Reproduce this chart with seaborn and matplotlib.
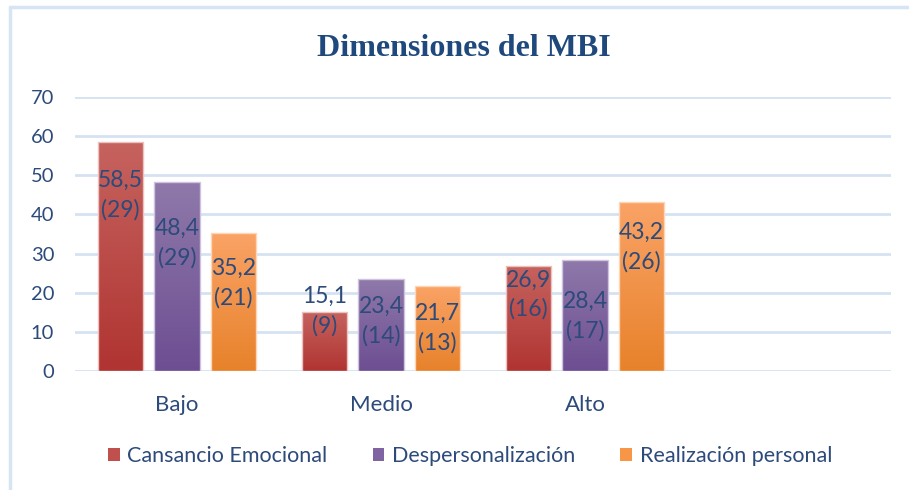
import numpy as np
import pandas as pd
import matplotlib
matplotlib.use("Agg")
import matplotlib.pyplot as plt
import seaborn as sns
from matplotlib.colors import LinearSegmentedColormap
from matplotlib.patches import Patch
from matplotlib.lines import Line2D

# ---- data ----
categories = ["Bajo", "Medio", "Alto"]
series = ["Cansancio Emocional", "Despersonalización", "Realización personal"]
cansancio = [58.5, 15.1, 26.9]
cansancio_n = [29, 9, 16]
despers = [48.4, 23.4, 28.4]
despers_n = [29, 14, 17]
realizacion = [35.2, 21.7, 43.2]
realizacion_n = [21, 13, 26]
yticks = [0, 10, 20, 30, 40, 50, 60, 70]

# label anchor heights (as placed in the original chart)
label_y = [[44.9, 15.3, 19.5], [32.6, 12.8, 14.0], [22.5, 11.0, 31.7]]

values = [cansancio, despers, realizacion]
counts = [cansancio_n, despers_n, realizacion_n]

rows = []
for s, vals in zip(series, values):
    for c, v in zip(categories, vals):
        rows.append({"cat": c, "serie": s, "val": v})
df = pd.DataFrame(rows)

sns.set_style("white")
plt.rcParams["font.family"] = ["Lato", "DejaVu Sans"]

text_col = "#2C4A7A"
grads = [("#C6635F", "#B03431"), ("#8F79AA", "#6D4E92"), ("#FAA366", "#E7822B")]
solid = ["#C0504D", "#8064A2", "#F79646"]
edges = ["#EBC2C0", "#D0C3DF", "#FCD6B6"]

fig = plt.figure(figsize=(9.09, 4.9), dpi=100)
ax = fig.add_axes([75 / 909, 119 / 490, 816 / 909, 274 / 490])

order = categories + [" "]
sns.barplot(data=df, x="cat", y="val", hue="serie", order=order, hue_order=series,
            width=0.828, gap=0.2, palette=solid, ax=ax, legend=False, errorbar=None)

ax.set_xlim(-0.5, 3.5)
ax.set_ylim(0, 70)
xl, yl = ax.get_xlim(), ax.get_ylim()

for ci, cont in enumerate(ax.containers):
    top, bot = grads[ci]
    cmap = LinearSegmentedColormap.from_list("g%d" % ci, [bot, top])
    for bar in cont:
        h = bar.get_height()
        if not np.isfinite(h) or h == 0:
            continue
        x0, y0, w = bar.get_x(), bar.get_y(), bar.get_width()
        grad = np.linspace(0, 1, 256).reshape(-1, 1)
        im = ax.imshow(grad, extent=[x0, x0 + w, y0, y0 + h], origin="lower",
                       cmap=cmap, aspect="auto", zorder=2, interpolation="bicubic")
        im.set_clip_path(bar)
        bar.set_facecolor("none")
        bar.set_edgecolor(edges[ci])
        bar.set_linewidth(1.0)
        bar.set_zorder(3)

ax.set_xlim(xl)
ax.set_ylim(yl)

# data labels
for ci, cont in enumerate(ax.containers):
    bars = [b for b in cont if np.isfinite(b.get_height()) and b.get_height() > 0]
    for bi, bar in enumerate(bars[:3]):
        xc = bar.get_x() + bar.get_width() / 2
        v = values[ci][bi]
        txt = ("%.1f" % v).replace(".", ",") + "\n(%d)" % counts[ci][bi]
        ax.text(xc, label_y[ci][bi], txt, ha="center", va="center", fontsize=16.5,
                color=text_col, linespacing=1.45, zorder=5)

ax.set_yticks(yticks)
ax.yaxis.grid(True, color="#D5E2F2", linewidth=2)
ax.xaxis.grid(False)
ax.set_axisbelow(True)
for sp in ax.spines.values():
    sp.set_visible(False)
ax.tick_params(axis="both", length=0, labelcolor=text_col)
ax.tick_params(axis="y", pad=15, labelsize=14.5)
ax.tick_params(axis="x", pad=17, labelsize=16)
ax.set_xlabel("")
ax.set_ylabel("")

fig.text(464 / 909, 1 - 48 / 490, "Dimensiones del MBI", ha="center", va="center",
         fontsize=23, fontweight="bold", family="Liberation Serif", color="#1F497D")

handles = [Patch(facecolor=c, edgecolor="none") for c in solid]
fig.legend(handles, series, loc="center", bbox_to_anchor=(470 / 909, 1 - 456 / 490),
           ncol=3, frameon=False, fontsize=15.5, handlelength=0.55, handleheight=0.55,
           handletextpad=0.35, columnspacing=2.1, labelcolor=text_col)

border = "#D6E4F4"
fig.add_artist(Line2D([10 / 909, 1], [1 - 7 / 490, 1 - 7 / 490], color=border, lw=2.5,
                      transform=fig.transFigure))
fig.add_artist(Line2D([10 / 909, 10 / 909], [0, 1 - 7 / 490], color=border, lw=2.5,
                      transform=fig.transFigure))

fig.savefig("out.png", dpi=100, facecolor="white")
